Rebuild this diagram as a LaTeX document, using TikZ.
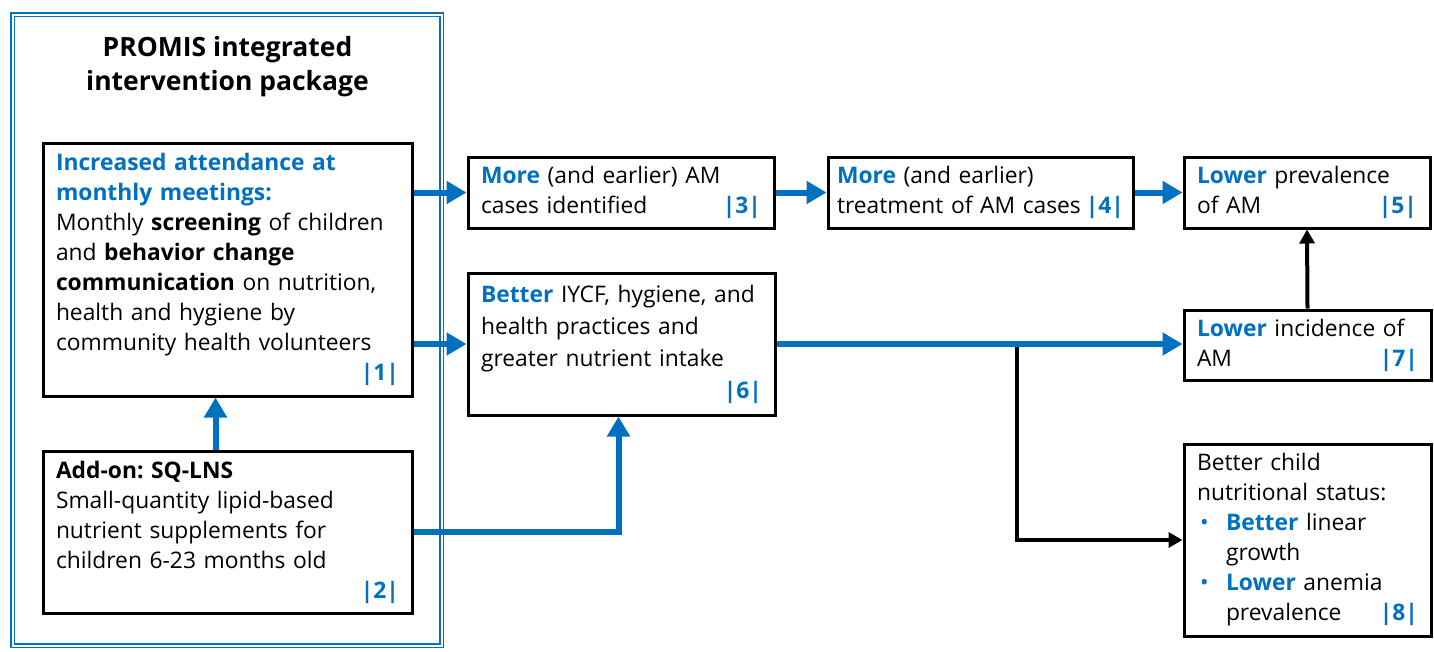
\documentclass[tikz,border=0pt]{standalone}
\usepackage{fontspec}
\setmainfont{Open Sans}
\usetikzlibrary{arrows.meta,calc}
\definecolor{blu}{RGB}{0,112,192}
\frenchspacing
\newcommand{\bb}[1]{\textbf{\textcolor{blu}{#1}}}
\newcommand{\numtag}[1]{\mbox{}\hfill\bb{|#1|}}
\newcommand{\fullline}[1]{\makebox[\linewidth][l]{#1}}
\begin{document}
\begin{tikzpicture}[x=1pt,y=-1pt,
  box/.style={draw=black, line width=3pt, inner xsep=13pt, inner ysep=0pt, align=left,
    font=\fontsize{22.8}{30}\selectfont, fill=white},
  outerbox/.style={draw=blu, line width=1.6pt, double=white, double distance=2pt, inner sep=0pt},
  titletext/.style={font=\bfseries\fontsize{26.5}{34}\selectfont, align=center},
  barr/.style={draw=blu, line width=6pt, -{Triangle[length=20pt,width=22pt]}},
  karr/.style={draw=black, line width=4pt, -{Triangle[length=14pt,width=15pt]}},
  ]
\useasboundingbox (0,0) rectangle (1434,651);

\node[outerbox, minimum width=429pt, minimum height=631pt] (pkg) at (227,330) {};
\node[titletext] (title) at (227.5,67) {PROMIS integrated\\intervention package};

\node[box, text width=343pt, minimum height=253pt] (b1) at (227.5,269.5)
  {\bb{Increased attendance at}\\ \bb{monthly meetings:}\\ Monthly \textbf{screening} of children\\ and \textbf{behavior change}\\ \textbf{communication} on nutrition,\\ health and hygiene by\\ community health volunteers\\ \numtag{1}};

\node[box, text width=343pt, minimum height=162pt] (b2) at (227.5,532)
  {\textbf{Add-on: SQ-LNS}\\ Small-quantity lipid-based\\ nutrient supplements for\\ children 6-23 months old\\ \numtag{2}};

\node[box, text width=280pt, minimum height=71pt] (b3) at (621,192.5)
  {\bb{More} (and earlier) AM\\ cases identified \numtag{3}};

\node[box, text width=287pt, inner xsep=9pt, minimum height=71pt] (b4) at (980.5,192.5)
  {\bb{More} (and earlier)\\ \fullline{treatment of AM cases\hfill\bb{|4|}}};

\node[box, text width=220pt, minimum height=71pt] (b5) at (1307,192.5)
  {\bb{Lower} prevalence\\ of AM \numtag{5}};

\node[box, text width=281pt, minimum height=142pt, font=\fontsize{22.8}{32}\selectfont] (b6) at (621.5,344)
  {\fullline{\bb{Better} IYCF, hygiene, and}\\ health practices and\\ greater nutrient intake\\ \numtag{6}};

\node[box, text width=221pt, minimum height=70pt] (b7) at (1307.5,345)
  {\bb{Lower} incidence of\\ AM \numtag{7}};

\node[box, text width=221pt, minimum height=192pt] (b8) at (1307.5,540)
  {Better child\\ \fullline{nutritional status:}\\
   \makebox[29pt][l]{\hspace{3pt}\textcolor{blu}{\textbullet}}\bb{Better} linear\\
   \hspace*{29pt}growth\\
   \makebox[29pt][l]{\hspace{3pt}\textcolor{blu}{\textbullet}}\bb{Lower} anemia\\
   \hspace*{29pt}prevalence \numtag{8}};

\coordinate (j) at ([xshift=240pt]b6.east);

% connectors
\draw[karr] (j) |- (b8.west);
\draw[karr] (b7.north) -- (b5.south);
\draw[barr] (b1.east |- b3.west) -- (b3.west);
\draw[barr] (b1.east |- b6.west) -- (b6.west);
\draw[barr] ([xshift=-12pt]b2.north) -- ([xshift=-12pt]b1.south);
\draw[barr] (b2.east) -| ([xshift=-3pt]b6.south);
\draw[barr] (b3.east) -- (b4.west);
\draw[barr] (b4.east) -- (b5.west);
\draw[barr] (b6.east) -- (b6.east -| b7.west);
\end{tikzpicture}
\end{document}
